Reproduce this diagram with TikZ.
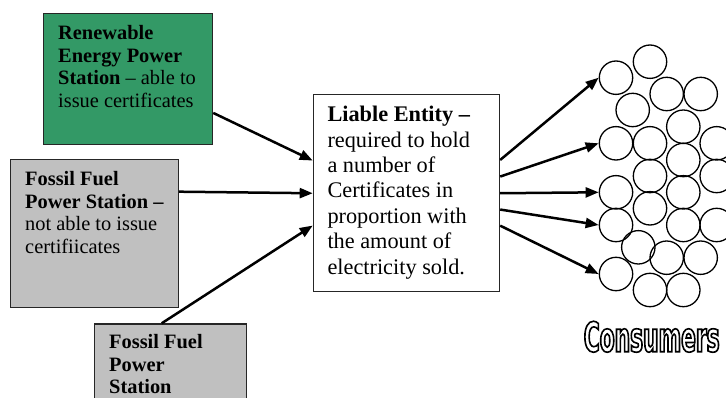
\documentclass[tikz,border=0pt]{standalone}
\usepackage{fontspec}
\setmainfont{Liberation Serif}
\newfontfamily\consfont[FakeStretch=0.53]{DejaVu Sans Bold}
\usetikzlibrary{arrows.meta,calc}
\definecolor{renewgreen}{RGB}{51,153,102}
\definecolor{fossilgray}{RGB}{192,192,192}
\newcommand{\hollowtext}[1]{\special{pdf:literal direct 1 Tr 1.6 w}#1\special{pdf:literal direct 0 Tr}}
\tikzset{
  stationbox/.style={draw=black!85, line width=1.2pt, anchor=north west, inner sep=0pt},
  lefttext/.style={anchor=north west, align=left, inner sep=0pt, font=\fontsize{20.4}{22.5}\selectfont},
  centertext/.style={anchor=north west, align=left, inner sep=0pt, font=\fontsize{22.3}{25.4}\selectfont},
  consumer/.style={circle, draw=black, line width=1.3pt, minimum size=33.4pt, inner sep=0pt},
  flow/.style={line width=2.5pt, -{Triangle[length=13pt,width=10pt]}}
}
\begin{document}
\begin{tikzpicture}[x=1pt,y=-1pt]
\useasboundingbox[fill=white] (0,0) rectangle (726,398);

% boxes
\node[stationbox, fill=renewgreen, minimum width=169pt, minimum height=131pt] (green) at (43,13) {};
\node[stationbox, fill=fossilgray, minimum width=168pt, minimum height=147.4pt] (fossilA) at (10,159.3) {};
\node[stationbox, fill=fossilgray, minimum width=151.7pt, minimum height=100pt] (fossilB) at (94,323.3) {};
\node[stationbox, fill=white, minimum width=186.3pt, minimum height=196.7pt] (entity) at (312.7,94) {};

% texts
\node[lefttext] (greentxt) at (58,25.5) {\textbf{Renewable}\\\textbf{Energy Power}\\\textbf{Station} – able to\\issue certificates};
\node[lefttext] (fossilAtxt) at (25,171.6) {\textbf{Fossil Fuel}\\\textbf{Power Station –}\\not able to issue\\certifiicates};
\node[lefttext] (fossilBtxt) at (109,334.2) {\textbf{Fossil Fuel}\\\textbf{Power}\\\textbf{Station}};
\node[centertext] (entitytxt) at (327.3,106) {\textbf{Liable Entity –}\\required to hold\\a number of\\Certificates in\\proportion with\\the amount of\\electricity sold.};

% consumers
\foreach \cx/\cy [count=\i] in {650/61.7, 616/77.7, 666.7/94, 700.7/94, 632.7/110, 683.3/126.7,
  616/143.3, 650/143.3, 716.7/143.3, 683.3/160, 650/176, 716.7/176, 616/192.3, 683.3/192.3,
  650/208.3, 616/225, 683.3/225, 716.7/225, 638.3/247.3, 666.7/257.7, 700.7/257.7,
  616/274, 650/290, 683.3/290}
  \node[consumer] (c\i) at (\cx,\cy) {};

\node[anchor=base, inner sep=0pt, font=\consfont\fontsize{41}{41}\selectfont] (consumers) at (651.7,351.7) {\hollowtext{Consumers}};

% arrows into the liable entity
\draw[flow] ([yshift=32.3pt]green.south east) -- ([yshift=32.4pt]entity.west);
\draw[flow] ([yshift=-32.4pt]fossilA.north east) -- ([yshift=-0.3pt]entity.west);
\draw[flow] ([xshift=67.7pt]fossilB.north west) -- ([yshift=-32.6pt]entity.west);

% arrows to consumers
\draw[flow] ([yshift=33pt]entity.east) -- (c2.west);
\draw[flow] ([yshift=16.4pt]entity.east) -- (c7.west);
\draw[flow] ([yshift=-0.3pt]entity.east) -- (c13.west);
\draw[flow] ([yshift=-16.6pt]entity.east) -- (c16.west);
\draw[flow] ([yshift=-32.7pt]entity.east) -- (c22.west);
\end{tikzpicture}
\end{document}
